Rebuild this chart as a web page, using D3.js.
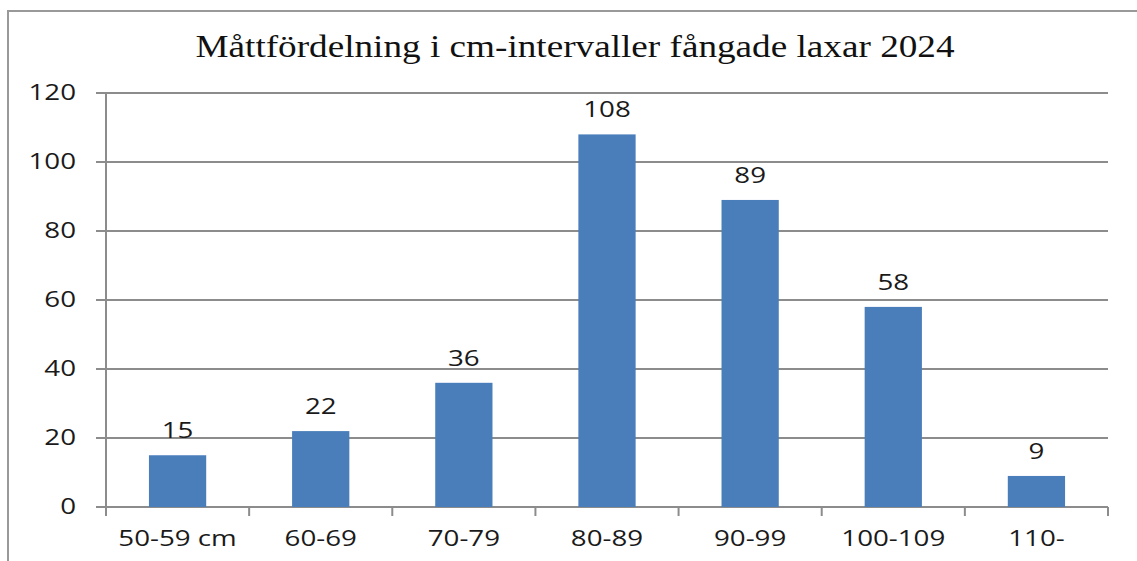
<!DOCTYPE html>
<html>
<head>
<meta charset="utf-8">
<script src="https://cdn.jsdelivr.net/npm/d3@7"></script>
<style>
  body { margin: 0; background: #fff; }
  svg { display: block; }
  .axis-text { font-family: "Open Sans", sans-serif; font-size: 21px; fill: #1a1a1a; }
</style>
</head>
<body>
<svg></svg>
<script>
// Data
const categories = ["50-59 cm", "60-69", "70-79", "80-89", "90-99", "100-109", "110-"];
const counts = [15, 22, 36, 108, 89, 58, 9];
const yTicks = [0, 20, 40, 60, 80, 100, 120];
const title = "Måttfördelning i cm-intervaller fångade laxar 2024";

const width = 1137;
const height = 561;
const margin = {top: 93, right: 29, bottom: 54, left: 106};
const stretch = 1.32;      // text in the picture is drawn wide
const titleStretch = 1.2;

const svg = d3.select("svg")
    .attr("width", width)
    .attr("height", height);

// outer frame (runs off the right and bottom)
svg.append("path")
    .attr("d", `M8,${height + 5} V11 H${width + 5}`)
    .attr("fill", "none")
    .attr("stroke", "#999")
    .attr("stroke-width", 2);

const x = d3.scaleBand()
    .domain(categories)
    .range([margin.left, width - margin.right])
    .paddingInner(0.6)
    .paddingOuter(0.3);

const y = d3.scaleLinear()
    .domain([0, 120])
    .range([height - margin.bottom, margin.top]);

// Title
svg.append("text")
    .attr("transform", `translate(575,57) scale(${titleStretch},1)`)
    .attr("text-anchor", "middle")
    .style("font-family", "'Liberation Serif', 'Times New Roman', serif")
    .style("font-size", "31px")
    .style("fill", "#111")
    .text(title);

// Gridlines
svg.append("g")
    .selectAll("line")
    .data(yTicks)
    .enter().append("line")
    .attr("x1", margin.left - 10)
    .attr("x2", width - margin.right)
    .attr("y1", d => y(d))
    .attr("y2", d => y(d))
    .attr("stroke", "#8c8c8c")
    .attr("stroke-width", 2);

// Y axis line
svg.append("line")
    .attr("x1", margin.left)
    .attr("x2", margin.left)
    .attr("y1", y(120))
    .attr("y2", y(0) + 9)
    .attr("stroke", "#8c8c8c")
    .attr("stroke-width", 2);

// Y tick labels
svg.append("g")
    .selectAll("text")
    .data(yTicks)
    .enter().append("text")
    .attr("class", "axis-text")
    .attr("text-anchor", "end")
    .attr("transform", d => `translate(76,${y(d) + 7}) scale(${stretch},1)`)
    .text(d => d);

// X tick marks at band edges
const edges = categories.map(c => x(c) - x.step() * x.paddingInner() / 2);
edges.push(width - margin.right);
svg.append("g")
    .selectAll("line")
    .data(edges)
    .enter().append("line")
    .attr("x1", d => d)
    .attr("x2", d => d)
    .attr("y1", y(0))
    .attr("y2", y(0) + 9)
    .attr("stroke", "#8c8c8c")
    .attr("stroke-width", 2);

// Bars
svg.append("g")
    .selectAll("rect")
    .data(counts)
    .enter().append("rect")
    .attr("x", (d, i) => x(categories[i]))
    .attr("y", d => y(d))
    .attr("width", x.bandwidth())
    .attr("height", d => y(0) - y(d))
    .attr("fill", "#4a7ebb");

// Value labels
svg.append("g")
    .selectAll("text")
    .data(counts)
    .enter().append("text")
    .attr("class", "axis-text")
    .attr("text-anchor", "middle")
    .attr("transform", (d, i) => `translate(${x(categories[i]) + x.bandwidth() / 2},${y(d) - 17}) scale(${stretch},1)`)
    .text(d => d);

// X labels
svg.append("g")
    .selectAll("text")
    .data(categories)
    .enter().append("text")
    .attr("class", "axis-text")
    .attr("text-anchor", "middle")
    .attr("transform", d => `translate(${x(d) + x.bandwidth() / 2},546) scale(${stretch},1)`)
    .text(d => d);
</script>
</body>
</html>
